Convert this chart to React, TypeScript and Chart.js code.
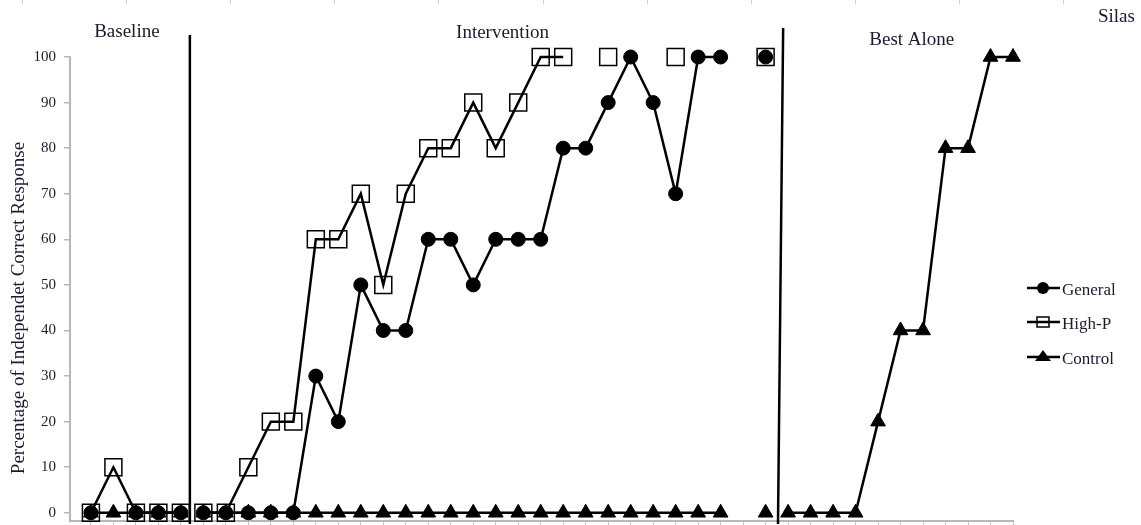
import React, { useEffect, useRef } from 'react';
import { Chart, registerables } from 'chart.js';

Chart.register(...registerables);

// Session numbers (x positions on the axis)
const sessions = [
  1, 2, 3, 4, 5, 6, 7, 8, 9, 10, 11, 12, 13, 14, 15, 16, 17, 18, 19, 20, 21,
  22, 23, 24, 25, 26, 27, 28, 29, 30, 31, 32, 33, 34, 35, 36, 37, 38, 39, 40, 41, 42,
];

const generalValues = [
  0, null, 0, 0, 0,
  0, 0, 0, 0, 0, 30, 20, 50, 40, 40, 60, 60, 50, 60, 60, 60, 80, 80, 90, 100, 90, 70, 100, 100, null, 100,
  null, null, null, null, null, null, null, null, null, null, null,
];

const highPValues = [
  0, 10, 0, 0, 0,
  0, 0, 10, 20, 20, 60, 60, 70, 50, 70, 80, 80, 90, 80, 90, 100, 100, null, 100, null, null, 100, null, null, null, 100,
  null, null, null, null, null, null, null, null, null, null, null,
];

const controlValues = [
  0, 0, 0, 0, 0,
  0, 0, 0, 0, 0, 0, 0, 0, 0, 0, 0, 0, 0, 0, 0, 0, 0, 0, 0, 0, 0, 0, 0, 0, null, 0,
  0, 0, 0, 0, 20, 40, 40, 80, 80, 100, 100,
];

const yTicks = [0, 10, 20, 30, 40, 50, 60, 70, 80, 90, 100];

const seriesNames = ['General', 'High-P', 'Control'];

// Phase change lines (in session units): [top x, bottom x]
const phaseLines = [
  [5.4, 5.4],
  [31.78, 31.55],
];
const phaseBreaks = [5.5, 31.5];

const phaseTitles = ['Baseline', 'Intervention', 'Best Alone'];
const chartTitle = 'Silas';
const yTitle = 'Percentage of Independet Correct Response';

const SERIF = '"Liberation Serif", "DejaVu Serif", serif';
const TEXT = '#1a1a33';
const AXIS = '#b8b8b8';

function toPoints(values: (number | null)[]) {
  return sessions.map((s, i) => ({ x: s, y: values[i] }));
}

const segmentStyle = {
  borderColor: (ctx: any) => {
    const a = ctx.p0.parsed.x;
    const b = ctx.p1.parsed.x;
    return phaseBreaks.some((p) => a < p && b > p) ? 'rgba(0,0,0,0)' : '#000';
  },
};

const overlayPlugin = {
  id: 'overlay',
  afterDraw(chart: any) {
    const { ctx, chartArea, scales } = chart;
    const xs = scales.x;
    ctx.save();

    // faint cropped tick marks at the very top
    ctx.strokeStyle = '#cfcfcf';
    ctx.lineWidth = 1;
    for (let k = 0; k < 11; k++) {
      const px = Math.round(22 + 104.1 * k) + 0.5;
      ctx.beginPath();
      ctx.moveTo(px, 0);
      ctx.lineTo(px, 4);
      ctx.stroke();
    }

    // phase change lines
    ctx.strokeStyle = '#000';
    ctx.lineWidth = 2.5;
    const tops = [35, 28];
    phaseLines.forEach((pl, i) => {
      ctx.beginPath();
      ctx.moveTo(xs.getPixelForValue(pl[0]), tops[i]);
      ctx.lineTo(xs.getPixelForValue(pl[1]), chartArea.bottom + 3);
      ctx.stroke();
    });

    // phase titles
    ctx.fillStyle = TEXT;
    ctx.font = `19px ${SERIF}`;
    ctx.textAlign = 'center';
    ctx.textBaseline = 'alphabetic';
    ctx.fillText(phaseTitles[0], xs.getPixelForValue(2.6), 37);
    ctx.fillText(phaseTitles[1], xs.getPixelForValue(19.3), 38);
    ctx.fillText(phaseTitles[2], xs.getPixelForValue(37.5), 45);
    ctx.textAlign = 'left';
    ctx.fillText(chartTitle, 1098, 22);

    // y-axis title
    ctx.save();
    ctx.translate(19, 308);
    ctx.rotate(-Math.PI / 2);
    ctx.textAlign = 'center';
    ctx.textBaseline = 'middle';
    ctx.font = `19px ${SERIF}`;
    ctx.fillText(yTitle, 0, 0);
    ctx.restore();

    // legend
    const lx0 = chartArea.right + 14;
    const lx1 = chartArea.right + 47;
    const mx = chartArea.right + 30;
    const rows = [288, 322, 357];
    ctx.font = `17px ${SERIF}`;
    ctx.textBaseline = 'middle';
    ctx.textAlign = 'left';
    seriesNames.forEach((name, i) => {
      const y = rows[i];
      ctx.strokeStyle = '#000';
      ctx.lineWidth = 2.5;
      ctx.beginPath();
      ctx.moveTo(lx0, y);
      ctx.lineTo(lx1, y);
      ctx.stroke();
      ctx.fillStyle = '#000';
      if (i === 0) {
        ctx.beginPath();
        ctx.arc(mx, y, 6, 0, Math.PI * 2);
        ctx.fill();
      } else if (i === 1) {
        ctx.lineWidth = 1.5;
        ctx.strokeRect(mx - 6, y - 5, 12, 10);
      } else {
        ctx.beginPath();
        ctx.moveTo(mx, y - 7);
        ctx.lineTo(mx + 8, y + 4);
        ctx.lineTo(mx - 8, y + 4);
        ctx.closePath();
        ctx.fill();
      }
      ctx.fillStyle = TEXT;
      ctx.fillText(name, lx1 + 2, y + 3);
    });

    ctx.restore();
  },
};

export default function App() {
  const canvasRef = useRef<HTMLCanvasElement | null>(null);

  useEffect(() => {
    if (!canvasRef.current) return;
    const common = {
      borderColor: '#000',
      borderWidth: 2.5,
      spanGaps: false,
      clip: false as any,
      segment: segmentStyle,
      pointBorderColor: '#000',
      tension: 0,
    };
    const chart = new Chart(canvasRef.current, {
      type: 'line',
      data: {
        datasets: [
          {
            ...common,
            label: seriesNames[0],
            data: toPoints(generalValues) as any,
            pointStyle: 'circle',
            pointRadius: 7,
            pointBorderWidth: 1,
            pointBackgroundColor: '#000',
          },
          {
            ...common,
            label: seriesNames[1],
            data: toPoints(highPValues) as any,
            pointStyle: 'rect',
            pointRadius: 12,
            pointBorderWidth: 1.5,
            pointBackgroundColor: 'rgba(0,0,0,0)',
          },
          {
            ...common,
            label: seriesNames[2],
            data: toPoints(controlValues) as any,
            pointStyle: 'triangle',
            pointRadius: 8.5,
            pointBorderWidth: 1,
            pointBackgroundColor: '#000',
          },
        ],
      },
      options: {
        animation: false,
        responsive: false,
        maintainAspectRatio: false,
        events: [],
        layout: { padding: { top: 57, right: 128, bottom: 0, left: 0 }, autoPadding: false },
        plugins: { legend: { display: false }, tooltip: { enabled: false }, title: { display: false } },
        scales: {
          x: {
            type: 'linear',
            min: 0.07,
            max: 42,
            afterBuildTicks: (s: any) => {
              s.ticks = sessions.map((v) => ({ value: v }));
            },
            afterFit: (s: any) => {
              s.height = 4;
              s.paddingLeft = 0;
              s.paddingRight = 0;
            },
            border: { color: AXIS, width: 2 },
            grid: { drawOnChartArea: false, tickLength: 4, color: '#c4c4c4', lineWidth: 1 },
            ticks: { display: false },
          },
          y: {
            type: 'linear',
            min: -1.8,
            max: 100,
            afterBuildTicks: (s: any) => {
              s.ticks = yTicks.map((v) => ({ value: v }));
            },
            afterFit: (s: any) => {
              s.width = 70;
              s.paddingTop = 0;
              s.paddingBottom = 0;
            },
            border: { color: AXIS, width: 2 },
            grid: { drawOnChartArea: false, tickLength: 6, color: AXIS, lineWidth: 1.5 },
            ticks: { font: { family: SERIF, size: 15 }, color: TEXT, padding: 8 },
            title: { display: false },
          },
        },
      },
      plugins: [overlayPlugin],
    });
    return () => chart.destroy();
  }, []);

  return (
    <div style={{ position: 'fixed', left: 0, top: 0, width: 1141, height: 525, background: '#fff' }}>
      <canvas ref={canvasRef} width={1141} height={525} style={{ width: 1141, height: 525, display: 'block' }} />
    </div>
  );
}
